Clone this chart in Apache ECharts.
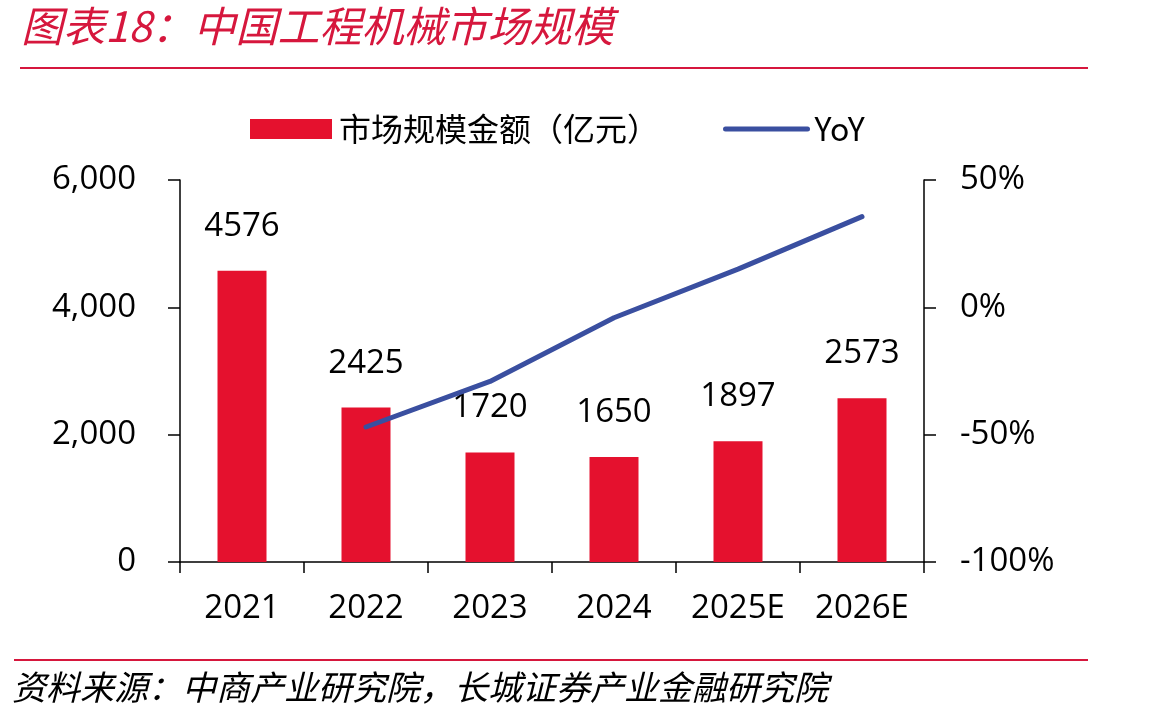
<!DOCTYPE html>
<html>
<head>
<meta charset="utf-8">
<script src="https://cdn.jsdelivr.net/npm/echarts@6/dist/echarts.min.js"></script>
<style>
  html,body{margin:0;padding:0;background:#fff;}
  #chart{width:1149px;height:725px;}
</style>
</head>
<body>
<div id="chart"></div>
<script>
// 数据
var years = ['2021', '2022', '2023', '2024', '2025E', '2026E'];
var marketSize = [4576, 2425, 1720, 1650, 1897, 2573];
var yoy = [null, -0.470, -0.291, -0.041, 0.150, 0.356];

var numFont = '"Open Sans", "Noto Sans", "Noto Sans CJK SC", sans-serif';
var cnFont = '"Noto Sans CJK SC", sans-serif';

var myChart = echarts.init(document.getElementById('chart'));
myChart.setOption({
    animation: false,
    backgroundColor: '#fff',
    title: {
        text: '图表18：中国工程机械市场规模',
        left: 16,
        top: 0,
        textStyle: {
            color: '#D6173D',
            fontFamily: cnFont,
            fontStyle: 'italic',
            fontWeight: 'normal',
            fontSize: 42
        }
    },
    graphic: [
        { type: 'line', shape: {x1: 20, y1: 68, x2: 1088, y2: 68}, style: {stroke: '#D6173D', lineWidth: 2} },
        { type: 'line', shape: {x1: 14, y1: 660, x2: 1088, y2: 660}, style: {stroke: '#D6173D', lineWidth: 2} },
        {
            type: 'text', left: 12, top: 670,
            style: {
                text: '资料来源：中商产业研究院，长城证券产业金融研究院',
                fill: '#000', fontFamily: cnFont, fontStyle: 'italic', fontSize: 34
            }
        }
    ],
    legend: {
        top: 108,
        left: 245,
        itemGap: 64,
        itemWidth: 82,
        itemHeight: 20,
        textStyle: {fontFamily: cnFont, fontSize: 32, color: '#000', padding: [0, 0, 0, 2]},
        data: [
            {name: '市场规模金额（亿元）', icon: 'rect'},
            {name: 'YoY', itemStyle: {opacity: 0}, lineStyle: {width: 5, cap: 'round', color: '#3A4FA0'}}
        ]
    },
    grid: {left: 180, right: 225, top: 180, bottom: 163},
    xAxis: {
        type: 'category',
        data: years,
        axisLine: {lineStyle: {color: '#000', width: 1.5}},
        axisTick: {show: true, alignWithLabel: false, length: 11, lineStyle: {color: '#000', width: 1.5}},
        axisLabel: {color: '#000', fontFamily: numFont, fontSize: 33, margin: 30}
    },
    yAxis: [
        {
            type: 'value',
            min: 0, max: 6000, interval: 2000,
            position: 'left',
            splitLine: {show: false},
            axisLine: {show: true, lineStyle: {color: '#000', width: 1.5}},
            axisTick: {show: true, length: 12, lineStyle: {color: '#000', width: 1.5}},
            axisLabel: {
                color: '#000', fontFamily: numFont, fontSize: 33, margin: 44,
                formatter: function (v) { return v.toLocaleString('en-US'); }
            }
        },
        {
            type: 'value',
            min: -1, max: 0.5, interval: 0.5,
            position: 'right',
            splitLine: {show: false},
            axisLine: {show: true, lineStyle: {color: '#000', width: 1.5}},
            axisTick: {show: true, length: 12, lineStyle: {color: '#000', width: 1.5}},
            axisLabel: {
                color: '#000', fontFamily: numFont, fontSize: 33, margin: 36,
                formatter: function (v) { return Math.round(v * 100) + '%'; }
            }
        }
    ],
    series: [
        {
            name: '市场规模金额（亿元）',
            type: 'bar',
            data: marketSize,
            barWidth: 49,
            itemStyle: {color: '#E5112E'},
            label: {
                show: true, position: 'top', distance: 28,
                color: '#000', fontFamily: numFont, fontSize: 33
            }
        },
        {
            name: 'YoY',
            type: 'line',
            yAxisIndex: 1,
            data: yoy,
            symbol: 'none',
            lineStyle: {color: '#3A4FA0', width: 5, cap: 'round'},
            itemStyle: {color: '#3A4FA0'}
        }
    ]
});
</script>
</body>
</html>
